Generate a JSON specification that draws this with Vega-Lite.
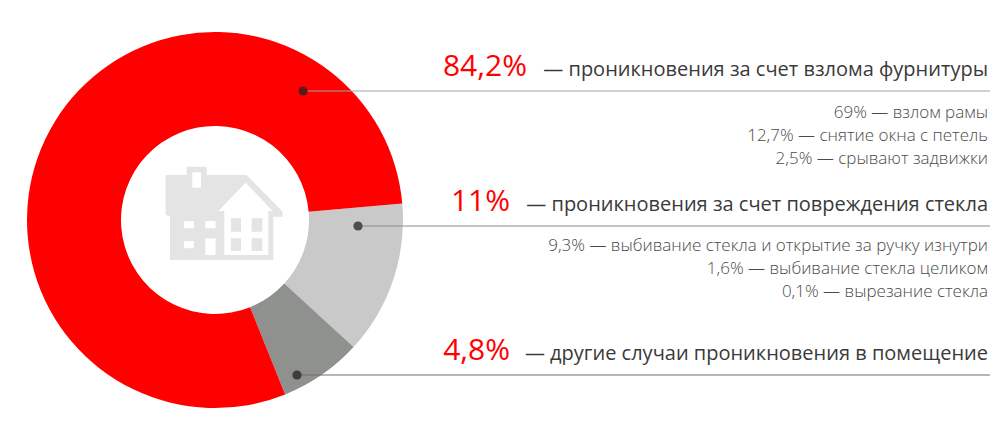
{
"$schema":"https://vega.github.io/schema/vega-lite/v6.json",
"width":1001,"height":424,
"autosize":{"type":"fit","contains":"padding"},
"padding":0,
"background":"white",
"config":{"view":{"stroke":null}},
"datasets":{
"main":[
{"category":"Повреждение стекла","share":13.2,"rank":1,"pct":"11%","heading":"— проникновения за счет повреждения стекла","row":"h2","line":2},
{"category":"Другие случаи","share":7.1,"rank":2,"pct":"4,8%","heading":"— другие случаи проникновения в помещение","row":"h3","line":3},
{"category":"Взлом фурнитуры","share":79.7,"rank":3,"pct":"84,2%","heading":"— проникновения за счет взлома фурнитуры","row":"h1","line":1}
],
"details":[
{"line":1,"label":"69% — взлом рамы"},
{"line":2,"label":"12,7% — снятие окна с петель"},
{"line":3,"label":"2,5% — срывают задвижки"},
{"line":4,"label":"9,3% — выбивание стекла и открытие за ручку изнутри"},
{"line":5,"label":"1,6% — выбивание стекла целиком"},
{"line":6,"label":"0,1% — вырезание стекла"}
]
},
"resolve":{"scale":{"x":"independent","y":"independent","color":"independent","theta":"independent"}},
"layer":[
{"data":{"name":"main"},
 "mark":{"type":"arc","outerRadius":188,"innerRadius":94,"x":215,"y":220},
 "encoding":{
  "theta":{"field":"share","type":"quantitative","stack":true,"scale":{"domain":[0,100],"range":[1.4835,7.7667]}},
  "order":{"field":"rank","type":"quantitative"},
  "color":{"field":"category","type":"nominal","legend":null,"scale":{"domain":["Взлом фурнитуры","Повреждение стекла","Другие случаи"],"range":["#ff0000","#c9c9c9","#8f918e"]}}
 }},
{"data":{"values":[{"icon":"house"}]},
 "mark":{"type":"point","filled":true,"opacity":1,"color":"#e4e4e4","strokeWidth":0,"size":0.4444,"x":224.3,"y":213.3,
  "shape":"M-176,-115L-113,-115L-113,-140L-53,-140L-53,-115L67,-115L175,-5L175,10L147,10L147,140L-163,140L-163,8L-176,5ZM-96,-123L-96,-77L-70,-77L-70,-123ZM64,-92L-18,-7L0,-7L0,125L132,125L132,-7L145,-7ZM20,15L50,15L50,55L20,55ZM82,15L114,15L114,55L82,55ZM20,75L50,75L50,113L20,113ZM82,75L114,75L114,113L82,113ZM-121,23L-121,45L-91,45L-91,23ZM-57,23L-57,45L-26,45L-26,23ZM-121,83L-121,105L-91,105L-91,83ZM-57,75L-57,125L-26,125L-26,75Z"},
 "encoding":{}},
{"data":{"name":"main"},
 "mark":{"type":"rule","strokeWidth":1},
 "encoding":{
  "x":{"field":"line","type":"quantitative","axis":null,"scale":{"domain":[1,2,3],"range":[303,358,297]}},
  "x2":{"value":990},
  "y":{"field":"line","type":"quantitative","axis":null,"scale":{"domain":[1,2,3],"range":[91,226,375]}},
  "color":{"field":"row","type":"nominal","legend":null,"scale":{"domain":["h1","h2","h3"],"range":["#a3a3a3","#8c8c8c","#6e6e6e"]}}
 }},
{"data":{"name":"main"},
 "mark":{"type":"circle","size":85,"opacity":1},
 "encoding":{
  "x":{"field":"line","type":"quantitative","axis":null,"scale":{"domain":[1,2,3],"range":[303,358,297]}},
  "y":{"field":"line","type":"quantitative","axis":null,"scale":{"domain":[1,2,3],"range":[91,226,375]}},
  "color":{"field":"row","type":"nominal","legend":null,"scale":{"domain":["h1","h2","h3"],"range":["#5a1a1a","#4d4d4d","#3d3d3d"]}}
 }},
{"data":{"name":"main"},
 "mark":{"type":"text","align":"right","baseline":"middle","font":"Open Sans","fontSize":30,"color":"#ff0000"},
 "encoding":{
  "text":{"field":"pct"},
  "x":{"field":"line","type":"quantitative","axis":null,"scale":{"domain":[1,2,3],"range":[527,510,510]}},
  "y":{"field":"line","type":"quantitative","axis":null,"scale":{"domain":[1,2,3],"range":[67,202,351]}}
 }},
{"data":{"name":"main"},
 "mark":{"type":"text","align":"right","baseline":"middle","font":"Open Sans","fontSize":20,"color":"#3a3a3a","x":988},
 "encoding":{
  "text":{"field":"heading"},
  "y":{"field":"line","type":"quantitative","axis":null,"scale":{"domain":[1,2,3],"range":[70,205,354]}}
 }},
{"data":{"name":"details"},
 "mark":{"type":"text","align":"right","baseline":"middle","font":"Open Sans","fontSize":17,"fontWeight":300,"color":"#4a4a4a","x":988},
 "encoding":{
  "text":{"field":"label"},
  "y":{"field":"line","type":"quantitative","axis":null,"scale":{"domain":[1,2,3,4,5,6],"range":[113,136,159,246,269,292]}}
 }}
]
}
